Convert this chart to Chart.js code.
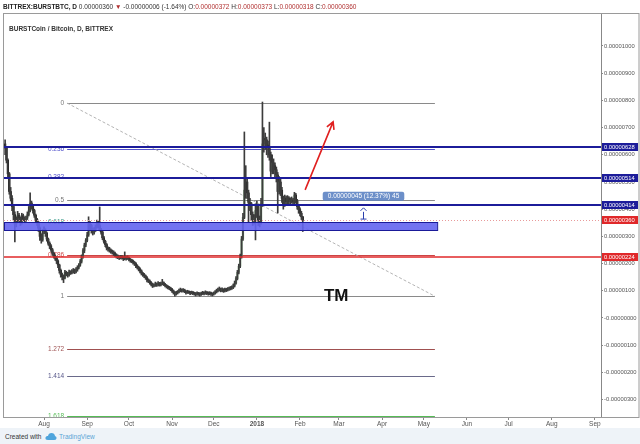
<!DOCTYPE html>
<html>
<head>
<meta charset="utf-8">
<script src="https://cdn.jsdelivr.net/npm/chart.js@4.4.1/dist/chart.umd.min.js"></script>
<style>
html, body { margin: 0; padding: 0; background: #fff; }
body { width: 640px; height: 444px; position: relative; overflow: hidden; font-family: "Liberation Sans", Arial, sans-serif; }
#head { position: absolute; left: 3px; top: 3px; font-size: 6.5px; color: #333; white-space: nowrap; }
#head b { color: #222; }
#head .r { color: #b03030; }
#legend { position: absolute; left: 9px; top: 25px; font-size: 6.5px; font-weight: bold; color: #333; }
#wrap { position: absolute; left: 0; top: 0; width: 640px; height: 428px; }
#foot { position: absolute; left: 0; top: 428px; width: 640px; height: 16px; background: #eef3f8; font-size: 6.5px; color: #333; }
#foot span { position: absolute; top: 5px; }
</style>
</head>
<body>
<div id="wrap"><canvas id="chart" width="640" height="428"></canvas></div>
<div id="head"><b>BITTREX:BURSTBTC, D</b> 0.00000360 <span class="r">&#9660;</span> -0.00000006 (-1.64%) O:<span class="r">0.00000372</span> H:<span class="r">0.00000373</span> L:<span class="r">0.00000318</span> C:<span class="r">0.00000360</span></div>
<div id="legend">BURSTCoin / Bitcoin, D, BITTREX</div>
<div id="foot">
  <span style="left:5px">Created with</span>
  <svg style="position:absolute;left:45px;top:4px" width="12" height="9" viewBox="0 0 12 9"><path d="M3 8 Q0 8 0.5 5.5 Q1 3.5 3 4 Q3.5 1 6.5 1 Q9.5 1 10 4 Q12 4.5 11.5 6.5 Q11 8 9 8 Z" fill="#4ea4dc"/></svg>
  <span style="left:59px;color:#5ba4d6">TradingView</span>
</div>
<script>
// daily candles from 4 Jul 2017 (day 0) to 3 Feb 2018 (day 214), values in satoshi
const closes = [
  625,580,530,465,440,410,380,345,360,378,
  368,352,376,365,360,368,380,395,423,410,
  395,378,362,350,330,300,287,318,322,312,
  290,275,265,251,238,228,220,210,195,175,
  160,152,147,168,162,158,169,166,170,175,
  170,178,186,194,208,225,248,268,285,305,
  345,340,322,314,325,335,352,340,325,316,
  295,282,270,258,254,250,246,242,238,232,
  226,224,222,225,222,218,222,220,222,216,
  212,210,205,200,192,186,180,173,165,160,
  155,148,140,136,130,124,118,120,125,122,
  128,122,126,130,124,120,116,113,110,106,
  100,94,88,92,96,100,104,100,103,98,
  94,97,95,92,94,92,90,88,91,89,
  88,90,93,91,94,92,90,92,89,88,
  91,96,100,104,107,102,105,100,104,103,
  106,108,110,112,118,128,145,168,190,225,
  290,370,470,500,460,425,420,380,362,368,
  395,410,360,353,420,640,660,655,636,630,
  600,540,570,560,545,526,465,500,470,440,
  415,441,428,441,428,432,434,426,452,430,
  410,398,385,372,360
];
const highs = [
  655,630,585,535,480,450,415,390,372,392,
  385,372,385,382,372,375,390,410,460,430,
  415,400,382,366,355,334,310,325,335,328,
  316,294,280,270,256,242,232,226,214,198,
  180,165,158,175,172,168,176,174,178,182,
  180,185,192,200,215,232,255,275,292,315,
  372,355,345,330,332,342,360,356,408,330,
  320,300,286,274,262,260,254,250,247,242,
  236,232,228,230,229,226,243,226,228,225,
  219,216,213,208,204,196,190,184,177,168,
  164,158,152,144,140,134,128,126,132,129,
  134,131,132,142,133,127,123,119,116,113,
  109,103,97,98,101,106,110,107,108,106,
  101,102,100,98,99,97,95,93,96,94,
  92,95,98,96,100,97,96,97,95,92,
  96,101,106,110,114,110,111,108,110,109,
  112,114,116,118,125,136,152,175,198,235,
  300,385,684,560,515,470,440,425,390,380,
  420,430,415,375,440,794,700,680,665,650,
  720,610,600,585,570,555,535,520,510,480,
  448,452,448,450,446,442,445,440,462,458,
  436,415,405,392,373
];
const lows = [
  600,570,520,455,430,395,360,280,335,350,
  355,340,345,358,350,355,362,375,390,400,
  385,370,352,340,318,285,275,282,310,300,
  282,268,255,245,230,220,212,200,185,165,
  150,140,130,144,155,150,154,160,162,165,
  163,166,172,180,190,202,220,240,262,280,
  300,325,312,305,308,318,330,332,320,308,
  288,275,262,250,246,242,238,235,230,225,
  220,218,215,217,216,211,214,213,215,210,
  205,203,198,193,185,180,173,166,158,153,
  148,142,133,130,124,118,112,114,116,116,
  118,117,118,122,119,114,110,107,104,100,
  94,88,80,84,88,92,96,95,96,93,
  88,90,90,86,88,86,84,81,84,83,
  80,83,86,85,87,86,84,85,83,81,
  84,88,92,96,99,96,97,94,96,97,
  99,101,103,105,108,114,124,140,162,185,
  220,285,365,440,440,353,395,360,340,345,
  287,370,340,335,345,410,610,620,600,590,
  580,520,530,530,520,500,386,455,450,425,
  400,410,418,420,418,420,422,415,420,422,
  400,385,375,362,318
];
const firstOpen = 640;
// daily crypto market: each open is the previous close
const opens = closes.map((c, i) => i === 0 ? firstOpen : closes[i - 1]);

const monthDays = [28, 59, 89, 120, 150, 181, 212, 240, 271, 301, 332, 362, 393, 424];
const monthLabels = ['Aug', 'Sep', 'Oct', 'Nov', 'Dec', '2018', 'Feb', 'Mar', 'Apr', 'May', 'Jun', 'Jul', 'Aug', 'Sep'];
const yTicks = [-300, -200, -100, 0, 100, 200, 300, 400, 500, 600, 700, 800, 900, 1000];

const fibLevels = [0, 0.236, 0.382, 0.5, 0.618, 0.786, 1, 1.272, 1.414, 1.618];
const fibLabels = ['0', '0.236', '0.382', '0.5', '0.618', '0.786', '1', '1.272', '1.414', '1.618'];
const fibStart = { day: 44.6, value: 790 };
const fibEnd = { day: 309, value: 80 };

const blueLevels = [628, 514, 414];
const redLevel = 224;
const lastPrice = 360;
const zone = { from: 324, to: 353, endDay: 310.6 };
const arrow = { day0: 215.7, v0: 471, day1: 235.8, v1: 721 };
const measure = { day: 257.4, from: 360, to: 405, text: '0.00000045 (12.37%) 45' };
const note = { day: 238, value: 81, text: 'TM' };

const FONT = '"Liberation Sans", Arial, sans-serif';
Chart.defaults.font.family = FONT;

const days = closes.map((c, i) => i);
const upCol = '#7f9f7f', downCol = '#000';

function fmt(v) {
  return (v <= 0 ? '-' : '') + (Math.abs(v) / 1e8).toFixed(8);
}

const overlays = {
  id: 'overlays',
  beforeDatasetsDraw(chart) {
    const { ctx, chartArea: a, scales: { x, y } } = chart;
    const px = d => x.getPixelForValue(d), py = v => y.getPixelForValue(v);
    ctx.save();
    ctx.beginPath();
    ctx.rect(a.left, a.top, a.right - a.left, a.bottom - a.top);
    ctx.clip();
    const range = fibStart.value - fibEnd.value;
    const fibLine = ['#8a8a8a', '#5555cc', '#5555cc', '#8a8a8a', '#3c9c8c', '#cc4444', '#8a8a8a', '#a05050', '#6a6a8a', '#55bb55'];
    const fibText = ['#777', '#5555cc', '#5555cc', '#777', '#3c9c8c', '#cc4444', '#777', '#a05555', '#555588', '#55bb55'];
    ctx.font = '6.5px ' + FONT;
    ctx.textAlign = 'right';
    ctx.textBaseline = 'middle';
    fibLevels.forEach((l, i) => {
      const yy = Math.round(py(fibStart.value - l * range)) + 0.5;
      ctx.strokeStyle = fibLine[i];
      ctx.lineWidth = 1;
      ctx.beginPath();
      ctx.moveTo(px(fibStart.day), yy);
      ctx.lineTo(px(fibEnd.day), yy);
      ctx.stroke();
      ctx.fillStyle = fibText[i];
      ctx.fillText(fibLabels[i], px(fibStart.day) - 3, yy);
    });
    ctx.strokeStyle = '#b4b4b4';
    ctx.setLineDash([3, 2]);
    ctx.beginPath();
    ctx.moveTo(px(fibStart.day), py(fibStart.value));
    ctx.lineTo(px(fibEnd.day), py(fibEnd.value));
    ctx.stroke();
    ctx.setLineDash([]);
    ctx.restore();
  },
  afterDatasetsDraw(chart) {
    const { ctx, chartArea: a, scales: { x, y } } = chart;
    const px = d => x.getPixelForValue(d), py = v => y.getPixelForValue(v);
    ctx.save();
    // price line
    ctx.strokeStyle = '#e89a9a';
    ctx.setLineDash([1, 2]);
    ctx.beginPath();
    ctx.moveTo(a.left, Math.round(py(lastPrice)) + 0.5);
    ctx.lineTo(a.right, Math.round(py(lastPrice)) + 0.5);
    ctx.stroke();
    ctx.setLineDash([]);
    // zone
    const zt = Math.round(py(zone.to)) + 0.5, zb = Math.round(py(zone.from)) + 0.5;
    ctx.fillStyle = 'rgba(100,100,240,0.9)';
    ctx.fillRect(a.left, zt, px(zone.endDay) - a.left, zb - zt);
    ctx.strokeStyle = '#1a1a99';
    ctx.lineWidth = 1;
    ctx.strokeRect(a.left + 0.5, zt, px(zone.endDay) - a.left, zb - zt);
    // horizontal levels
    ctx.lineWidth = 2;
    ctx.strokeStyle = '#1c1c9a';
    blueLevels.forEach(v => {
      ctx.beginPath();
      ctx.moveTo(a.left, Math.round(py(v)));
      ctx.lineTo(a.right, Math.round(py(v)));
      ctx.stroke();
    });
    ctx.strokeStyle = '#e0282a';
    ctx.lineWidth = 1.6;
    ctx.beginPath();
    ctx.moveTo(a.left, Math.round(py(redLevel)));
    ctx.lineTo(a.right, Math.round(py(redLevel)));
    ctx.stroke();
    // red arrow
    const x0 = px(arrow.day0), y0 = py(arrow.v0), x1 = px(arrow.day1), y1 = py(arrow.v1);
    ctx.strokeStyle = '#e02020';
    ctx.lineWidth = 1.6;
    ctx.beginPath();
    ctx.moveTo(x0, y0);
    ctx.lineTo(x1, y1);
    const ang = Math.atan2(y1 - y0, x1 - x0);
    ctx.moveTo(x1 - 8 * Math.cos(ang - 0.5), y1 - 8 * Math.sin(ang - 0.5));
    ctx.lineTo(x1, y1);
    ctx.lineTo(x1 - 8 * Math.cos(ang + 0.5), y1 - 8 * Math.sin(ang + 0.5));
    ctx.stroke();
    // measure tool
    const mx = Math.round(px(measure.day)) + 0.5, mt = py(measure.to), mb = py(measure.from);
    ctx.strokeStyle = '#2a3fae';
    ctx.lineWidth = 1;
    ctx.beginPath();
    ctx.moveTo(mx, mb - 1);
    ctx.lineTo(mx, mt + 4);
    ctx.moveTo(mx - 3, mb - 1);
    ctx.lineTo(mx + 3, mb - 1);
    ctx.moveTo(mx - 3, mt + 3);
    ctx.lineTo(mx, mt);
    ctx.lineTo(mx + 3, mt + 3);
    ctx.stroke();
    ctx.font = '6.5px ' + FONT;
    const tw = ctx.measureText(measure.text).width + 10;
    ctx.fillStyle = 'rgba(96,134,196,0.92)';
    const by = mt - 16;
    ctx.beginPath();
    ctx.roundRect(mx - tw / 2, by, tw, 9, 2);
    ctx.fill();
    ctx.fillStyle = '#fff';
    ctx.textAlign = 'center';
    ctx.textBaseline = 'middle';
    ctx.fillText(measure.text, mx, by + 4.8);
    // note
    ctx.fillStyle = '#111';
    ctx.font = 'bold 17px ' + FONT;
    ctx.fillText(note.text, px(note.day), py(note.value));
    ctx.restore();
  },
  afterDraw(chart) {
    const { ctx, chartArea: a, scales: { y } } = chart;
    ctx.save();
    ctx.strokeStyle = '#9a9a9a';
    ctx.lineWidth = 1;
    ctx.strokeRect(a.left - 0.5, a.top - 0.5, 639.5 - a.left, a.bottom - a.top + 1);
    ctx.font = '5.8px ' + FONT;
    ctx.textBaseline = 'middle';
    ctx.textAlign = 'left';
    const tag = (v, col) => {
      const yy = Math.round(y.getPixelForValue(v));
      ctx.fillStyle = col;
      ctx.fillRect(a.right + 1, yy - 4, 36, 8);
      ctx.fillStyle = '#fff';
      ctx.fillText(fmt(v), a.right + 3, yy + 0.5);
    };
    blueLevels.forEach(v => tag(v, '#1c1c9a'));
    tag(lastPrice, '#e0282a');
    tag(redLevel, '#e0282a');
    ctx.restore();
  }
};

new Chart(document.getElementById('chart'), {
  type: 'bar',
  data: {
    datasets: [{
      data: days.map(d => ({ x: d, y: [lows[d], highs[d]] })),
      backgroundColor: '#3c3c3c',
      barThickness: 1,
      grouped: false
    }, {
      data: days.map(d => ({ x: d, y: [opens[d], closes[d]] })),
      backgroundColor: days.map(d => closes[d] >= opens[d] ? upCol : downCol),
      barThickness: 1.6,
      minBarLength: 1,
      grouped: false
    }]
  },
  options: {
    responsive: false,
    animation: false,
    devicePixelRatio: 1,
    layout: { padding: { left: 4, top: 14, right: 0, bottom: 0 } },
    plugins: { legend: { display: false }, tooltip: { enabled: false } },
    scales: {
      x: {
        type: 'linear',
        offset: false,
        min: -0.8,
        max: 428.4,
        afterBuildTicks: s => { s.ticks = monthDays.map(v => ({ value: v })); },
        afterFit: s => { s.height = 11; },
        ticks: {
          autoSkip: false,
          maxRotation: 0,
          padding: 0,
          color: '#555',
          font: c => ({ size: 6.5, family: FONT, weight: monthLabels[c.index] === '2018' ? 'bold' : 'normal' }),
          callback: (v, i) => monthLabels[i]
        },
        grid: { drawOnChartArea: false, offset: false, tickLength: 3, color: '#888' },
        border: { color: '#888' }
      },
      y: {
        position: 'right',
        min: -364,
        max: 1117.6,
        afterBuildTicks: s => { s.ticks = yTicks.map(v => ({ value: v })); },
        afterFit: s => { s.width = 39; },
        ticks: { padding: 1, color: '#555', font: { size: 5.8, family: FONT }, callback: v => fmt(v) },
        grid: { drawOnChartArea: false, tickLength: 2, color: '#888' },
        border: { color: '#888' }
      }
    }
  },
  plugins: [overlays]
});
</script>
</body>
</html>
